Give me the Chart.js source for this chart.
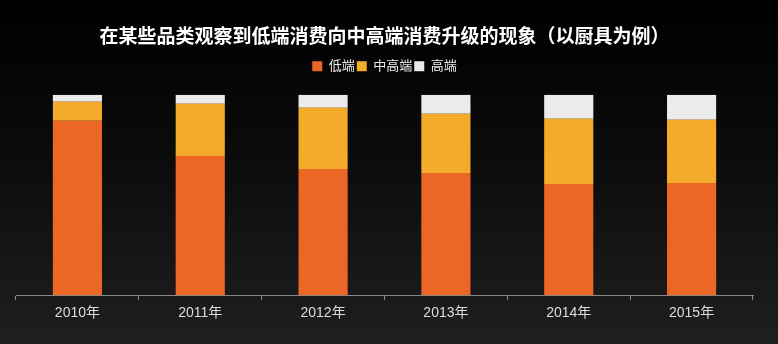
<!DOCTYPE html>
<html>
<head>
<meta charset="utf-8">
<script src="https://cdn.jsdelivr.net/npm/chart.js@4"></script>
<style>
  html, body { margin: 0; padding: 0; background: #000; }
  #wrap { width: 778px; height: 344px; background: linear-gradient(to bottom, #000 0%, #0b0b0b 45%, #1f1f1f 100%); }
</style>
</head>
<body>
<div id="wrap"><canvas id="chart" width="778" height="344"></canvas></div>
<script>
const years = ['2010年', '2011年', '2012年', '2013年', '2014年', '2015年'];
const lowEnd = [87, 69.5, 63, 61, 55.5, 56];       // 低端
const midHigh = [9.5, 26, 30.5, 29.5, 32.5, 31.5]; // 中高端
const highEnd = [3.5, 4.5, 6.5, 9.5, 12, 12.5];    // 高端

const FONT = '"Noto Sans CJK SC", "Noto Sans", sans-serif';
const LABEL_FONT = '"Liberation Sans", "Noto Sans CJK SC", sans-serif';

// extra room under the legend
const legendGap = {
  id: 'legendGap',
  beforeInit(chart) {
    const fit = chart.legend.fit;
    chart.legend.fit = function () {
      fit.call(this);
      this.height += 12;
    };
  }
};

const ctx = document.getElementById('chart').getContext('2d');
new Chart(ctx, {
  type: 'bar',
  data: {
    labels: years,
    datasets: [
      { label: '低端', data: lowEnd, backgroundColor: '#ec6726' },
      { label: '中高端', data: midHigh, backgroundColor: '#f4ab2a' },
      { label: '高端', data: highEnd, backgroundColor: '#ebebeb' }
    ]
  },
  plugins: [legendGap],
  options: {
    responsive: false,
    animation: false,
    layout: { padding: { left: 16, right: 25, top: 14, bottom: 17 } },
    datasets: { bar: { barPercentage: 0.4, categoryPercentage: 1.0 } },
    plugins: {
      title: {
        display: true,
        text: '在某些品类观察到低端消费向中高端消费升级的现象（以厨具为例）',
        color: '#ffffff',
        font: { family: FONT, size: 19, weight: 'bold' },
        padding: { top: 10, bottom: 11 }
      },
      legend: {
        labels: {
          color: '#eeeeee',
          boxWidth: 10,
          boxHeight: 10,
          padding: 2,
          font: { family: LABEL_FONT, size: 13 }
        }
      },
      tooltip: { enabled: false }
    },
    scales: {
      x: {
        stacked: true,
        grid: { drawOnChartArea: false, drawTicks: true, tickLength: 5, color: '#888888' },
        border: { color: '#888888' },
        ticks: { color: '#dddddd', font: { family: LABEL_FONT, size: 14 }, padding: 5 }
      },
      y: {
        stacked: true,
        display: false,
        min: 0,
        max: 100
      }
    }
  }
});
</script>
</body>
</html>
